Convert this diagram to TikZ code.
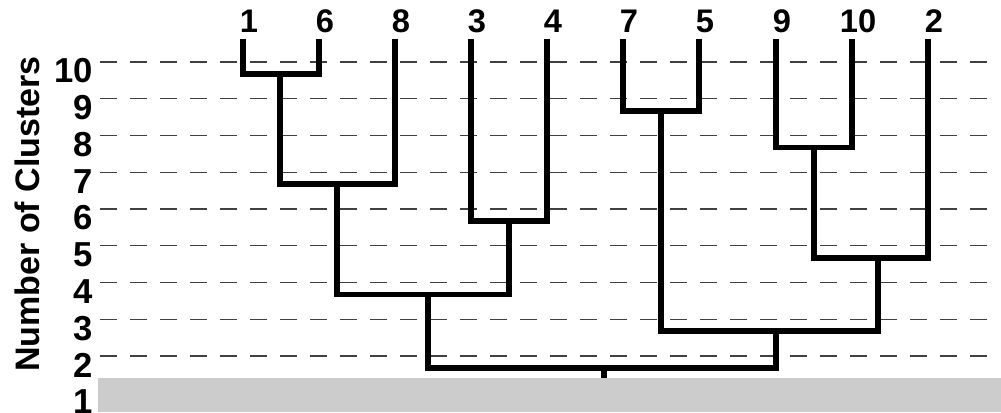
\documentclass[tikz,border=0pt]{standalone}
\usepackage{fontspec}
\setmainfont{Liberation Sans}
\begin{document}
\begin{tikzpicture}[x=0.75pt,y=-0.75pt,
  grid/.style={draw=black!75,line width=1pt,dash pattern=on 12.75pt off 9.75pt},
  tree/.style={draw=black,line width=4.2pt,line join=miter},
  leaflbl/.style={font=\bfseries\fontsize{24.5}{28}\selectfont,inner sep=0pt,xshift=4.5pt,yshift=4.5pt},
  ylbl/.style={font=\bfseries\fontsize{26}{30}\selectfont,inner sep=0pt,anchor=east},
  ttl/.style={font=\bfseries\fontsize{25.5}{30}\selectfont,inner sep=0pt,rotate=90}]
\useasboundingbox (0,0) rectangle (1001,412);
% grey base band
\fill[black!20] (98,378) rectangle (1001,412);
% dashed level lines and axis numbers
\foreach \k in {2,...,10}{
  \draw[grid] (100,{62+(10-\k)*36.75}) -- (995,{62+(10-\k)*36.75});
}
\foreach \k in {1,...,10}{
  \node[ylbl] (y\k) at (93,{71+(10-\k)*36.75}) {\k};
}
\node[ttl] (title) at (27,214) {Number of Clusters};
% leaves
\coordinate[label={[leaflbl]above:1}]  (t1)  at (243,39);
\coordinate[label={[leaflbl]above:6}]  (t6)  at (319,39);
\coordinate[label={[leaflbl]above:8}]  (t8)  at (395,39);
\coordinate[label={[leaflbl]above:3}]  (t3)  at (471,39);
\coordinate[label={[leaflbl]above:4}]  (t4)  at (547,39);
\coordinate[label={[leaflbl]above:7}]  (t7)  at (623,39);
\coordinate[label={[leaflbl]above:5}]  (t5)  at (699,39);
\coordinate[label={[leaflbl]above:9}]  (t9)  at (776,39);
\coordinate[label={[leaflbl]above:10}] (t10) at (852,39);
\coordinate[label={[leaflbl]above:2}]  (t2)  at (928,39);
% merge points
\coordinate (A) at (280,74);
\coordinate (B) at (661,110.75);
\coordinate (C) at (814,147.5);
\coordinate (D) at (337,184.25);
\coordinate (E) at (509,221);
\coordinate (F) at (878,257.75);
\coordinate (G) at (428,294.5);
\coordinate (H) at (776,331.25);
\coordinate (I) at (604,368);
\coordinate (base) at (604,378);
% dendrogram
\draw[tree] (t1) |- (A) -| (t6);
\draw[tree] (t7) |- (B) -| (t5);
\draw[tree] (t9) |- (C) -| (t10);
\draw[tree] (A) |- (D) -| (t8);
\draw[tree] (t3) |- (E) -| (t4);
\draw[tree] (C) |- (F) -| (t2);
\draw[tree] (D) |- (G) -| (E);
\draw[tree] (B) |- (H) -| (F);
\draw[tree] (G) |- (I) -| (H);
\draw[tree] (I) -- (base);
\end{tikzpicture}
\end{document}
